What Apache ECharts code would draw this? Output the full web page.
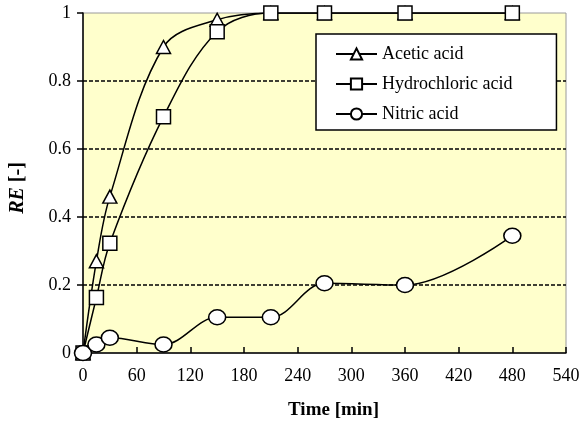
<!DOCTYPE html>
<html>
<head>
<meta charset="utf-8">
<script src="https://cdn.jsdelivr.net/npm/echarts@6/dist/echarts.min.js"></script>
<style>
  html, body { margin: 0; padding: 0; background: #ffffff; }
  #chart { width: 585px; height: 425px; }
</style>
</head>
<body>
<div id="chart"></div>
<script>
// Sampling times [min]
const times = [0, 15, 30, 90, 150, 210, 270, 360, 480];
// Removal efficiency RE [-] for each leaching agent
const acetic = [0, 0.27, 0.46, 0.90, 0.98, 1.0, 1.0, 1.0, 1.0];
const hydrochloric = [0, 0.163, 0.323, 0.695, 0.945, 1.0, 1.0, 1.0, 1.0];
const nitric = [0, 0.025, 0.045, 0.025, 0.105, 0.105, 0.205, 0.2, 0.345];
// Axis ticks
const xTicks = [0, 60, 120, 180, 240, 300, 360, 420, 480, 540];
const yTicks = [0, 0.2, 0.4, 0.6, 0.8, 1];

const serif = '"Liberation Serif", "Times New Roman", serif';

function pairs(xs, ys) {
  return xs.map((x, i) => [x, ys[i]]);
}

function lineSeries(name, values, symbol, size) {
  return {
    name: name,
    type: 'line',
    data: pairs(times, values),
    smooth: 0.35,
    symbol: symbol,
    symbolSize: size,
    lineStyle: { color: '#000', width: 1.5 },
    itemStyle: { color: '#fff', borderColor: '#000', borderWidth: 1.5 },
    emphasis: { disabled: true },
    z: 3
  };
}

// dashed grid only on the inner ticks; the frame covers 0 and 1
const gridColors = yTicks.map((v, i) => (i === 0 || i === yTicks.length - 1) ? 'rgba(0,0,0,0)' : '#000');

const chart = echarts.init(document.getElementById('chart'), null, { renderer: 'canvas' });

chart.setOption({
  animation: false,
  backgroundColor: '#ffffff',
  grid: {
    left: 82, right: 19, top: 13, bottom: 72,
    show: true,
    backgroundColor: '#FFFFCC',
    borderColor: '#9a9a9a',
    borderWidth: 1
  },
  legend: {
    left: 316,
    top: 34,
    orient: 'vertical',
    backgroundColor: '#ffffff',
    borderColor: '#000',
    borderWidth: 1.5,
    borderRadius: 0,
    padding: [11, 44, 7, 19],
    itemWidth: 41,
    itemHeight: 14,
    itemGap: 12,
    textStyle: { fontFamily: serif, fontSize: 18, color: '#000', lineHeight: 14, height: 14 },
    data: ['Acetic acid', 'Hydrochloric acid', 'Nitric acid']
  },
  xAxis: {
    type: 'value',
    min: xTicks[0],
    max: xTicks[xTicks.length - 1],
    interval: xTicks[1] - xTicks[0],
    name: 'Time [min]',
    nameLocation: 'middle',
    nameGap: 48,
    nameTextStyle: { fontFamily: serif, fontSize: 19, fontWeight: 'bold', color: '#000', padding: [0, 0, 0, 18] },
    axisLine: { show: true, onZero: false, lineStyle: { color: '#000', width: 1.5 } },
    axisTick: { show: true, inside: true, length: 6, lineStyle: { color: '#000', width: 1.5 } },
    axisLabel: { fontFamily: serif, fontSize: 18, color: '#000', margin: 14 },
    splitLine: { show: false }
  },
  yAxis: {
    type: 'value',
    min: yTicks[0],
    max: yTicks[yTicks.length - 1],
    interval: yTicks[1] - yTicks[0],
    name: '{i|RE} [-]',
    nameLocation: 'middle',
    nameRotate: 90,
    nameGap: 55,
    nameTextStyle: {
      fontFamily: serif, fontSize: 20, fontWeight: 'bold', color: '#000',
      padding: [0, 10, 0, 0],
      rich: { i: { fontFamily: serif, fontSize: 20, fontWeight: 'bold', fontStyle: 'italic', color: '#000' } }
    },
    axisLine: { show: true, lineStyle: { color: '#000', width: 1.5 } },
    axisTick: { show: true, inside: false, length: 6, lineStyle: { color: '#000', width: 1.5 } },
    axisLabel: {
      fontFamily: serif, fontSize: 18, color: '#000', margin: 12,
      formatter: v => String(Math.round(v * 10) / 10)
    },
    splitLine: {
      show: true,
      lineStyle: { color: gridColors, width: 1.5, type: [4, 2] }
    }
  },
  series: [
    lineSeries('Acetic acid', acetic, 'triangle', [14, 13]),
    lineSeries('Hydrochloric acid', hydrochloric, 'rect', 14),
    lineSeries('Nitric acid', nitric, 'circle', [17, 15])
  ]
});
</script>
</body>
</html>
